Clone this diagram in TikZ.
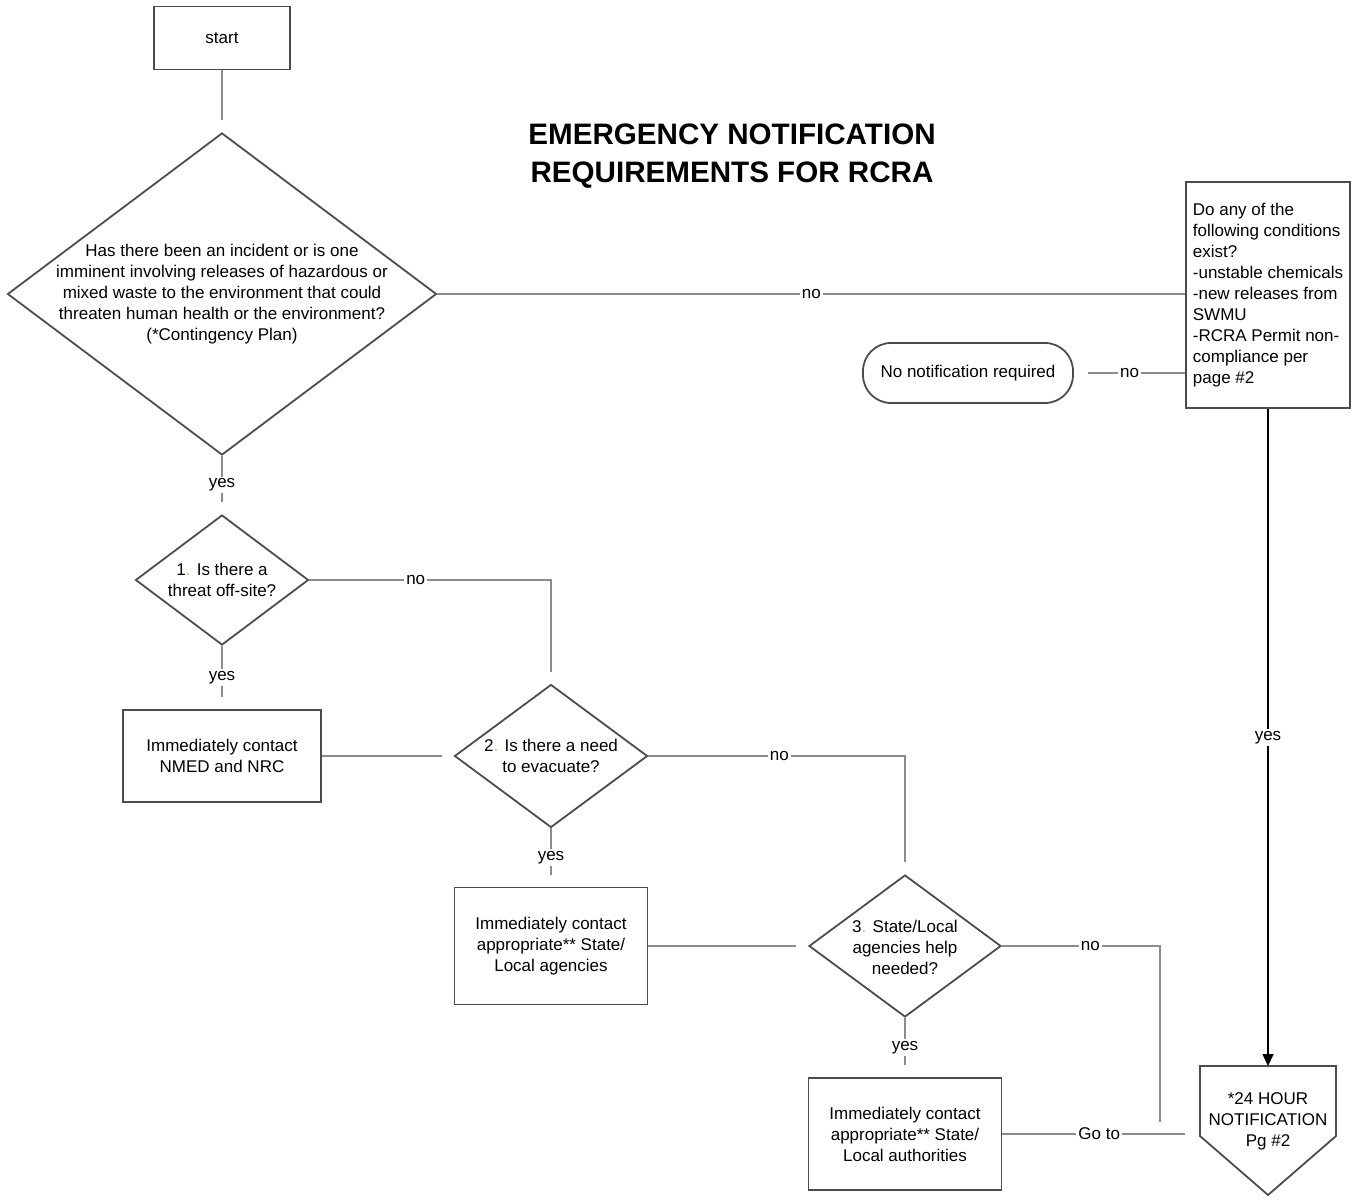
\documentclass[tikz,border=0pt]{standalone}
\usepackage{fontspec}
\setmainfont{Liberation Sans}
\usepackage{xcolor}
\usepackage{tikz}
\usetikzlibrary{arrows.meta,shapes.geometric}

\definecolor{dotgray}{RGB}{205,185,165}
\newcommand{\bodyfont}{\fontsize{8.5}{10.5}\selectfont}
\newcommand{\titlefont}{\fontsize{14.8}{19}\selectfont\bfseries}

\begin{document}
\begin{tikzpicture}[x=0.5pt,y=-0.5pt,
  box/.style={draw=black!70,line width=0.9pt,align=center,font=\bodyfont},
  decision/.style={diamond,draw=black!70,line width=0.9pt,inner sep=0pt},
  qtext/.style={align=center,font=\bodyfont},
  link/.style={draw=black!45,line width=0.7pt},
  gap/.style={shorten >=6pt},
  lab/.style={fill=white,inner sep=1pt,font=\bodyfont}]
\useasboundingbox (0,0) rectangle (1358,1203);

% Title
\node[font=\titlefont,align=center] (title) at (732,156)
    {EMERGENCY NOTIFICATION\\REQUIREMENTS FOR RCRA};

% Start and first question
\node[box,minimum width=68pt,minimum height=31.5pt] (start) at (222,38) {start};
\node[decision,minimum width=214.5pt,minimum height=161pt] (q0) at (222,294) {};
\node[qtext] (q0txt) at (222,294) {Has there been an incident or is one\\
    imminent involving releases of hazardous or\\
    mixed waste to the environment that could\\
    threaten human health or the environment?\\
    (*Contingency Plan)};

% Conditions on the right
\node[box,align=left,minimum width=81.5pt,minimum height=113pt] (cond) at (1268,295)
    {Do any of the\\following conditions\\exist?\\-unstable chemicals\\
     -new releases from\\SWMU\\-RCRA Permit non-\\compliance per\\page \#2};
\node[box,rounded corners=14pt,minimum width=105pt,minimum height=30pt] (term) at (968,373)
    {No notification required};

% Numbered questions
\node[decision,minimum width=86.5pt,minimum height=65pt] (q1) at (222,580) {};
\node[qtext] (q1txt) at (222,580) {1{\color{dotgray}.} Is there a\\threat off-site?};
\node[box,minimum width=99pt,minimum height=46pt] (nmed) at (222,756)
    {Immediately contact\\NMED and NRC};

\node[decision,minimum width=96.5pt,minimum height=71.5pt] (q2) at (551,756) {};
\node[qtext] (q2txt) at (551,756) {2{\color{dotgray}.} Is there a need\\to evacuate?};
\node[box,minimum width=96.5pt,minimum height=58.5pt] (agen) at (551,946)
    {Immediately contact\\appropriate** State/\\Local agencies};

\node[decision,minimum width=96pt,minimum height=71pt] (q3) at (905,946) {};
\node[qtext] (q3txt) at (905,947) {3{\color{dotgray}.} State/Local\\agencies help\\needed?};
\node[box,minimum width=96.5pt,minimum height=56pt] (auth) at (905,1134)
    {Immediately contact\\appropriate** State/\\Local authorities};

% 24 hour notification (off-page marker)
\draw[draw=black!70,line width=0.9pt] (1200,1066) -- (1336,1066) -- (1336,1136)
    -- (1268,1195) -- (1200,1136) -- cycle;
\node[qtext] (notify) at (1268,1121) {*24 HOUR\\NOTIFICATION\\Pg \#2};
\coordinate (notifytop) at (1268,1066);
\coordinate (q3end) at (1160,1122);
\coordinate (gotoend) at (1185,1134);

% Connectors
\draw[link,gap] (start) -- (q0);
\draw[link,gap] (q0.south) -- (q1.north) node[lab,midway] {yes};
\draw[link] (q0.east) -- (q0.east -| cond.west) node[lab,pos=0.5] {no};
\draw[link,shorten <=7pt] (term.east) -- (term.east -| cond.west) node[lab,midway] {no};
\draw[line width=0.8pt,-{Triangle[length=6pt,width=5.5pt]}] (cond.south) -- (notifytop)
    node[lab,midway] {yes};

\draw[link,gap] (q1.east) -| (q2.north) node[lab,pos=0.22] {no};
\draw[link,gap] (q1.south) -- (nmed.north) node[lab,midway] {yes};
\draw[link,gap] (nmed.east) -- (q2.west);

\draw[link,gap] (q2.east) -| (q3.north) node[lab,pos=0.255] {no};
\draw[link,gap] (q2.south) -- (agen.north) node[lab,midway] {yes};
\draw[link,gap] (agen.east) -- (q3.west);

\draw[link] (q3.east) -| (q3end) node[lab,pos=0.28] {no};
\draw[link,gap] (q3.south) -- (auth.north) node[lab,midway] {yes};
\draw[link] (auth.east) -- (gotoend) node[lab,pos=0.53] {Go to};
\end{tikzpicture}
\end{document}
